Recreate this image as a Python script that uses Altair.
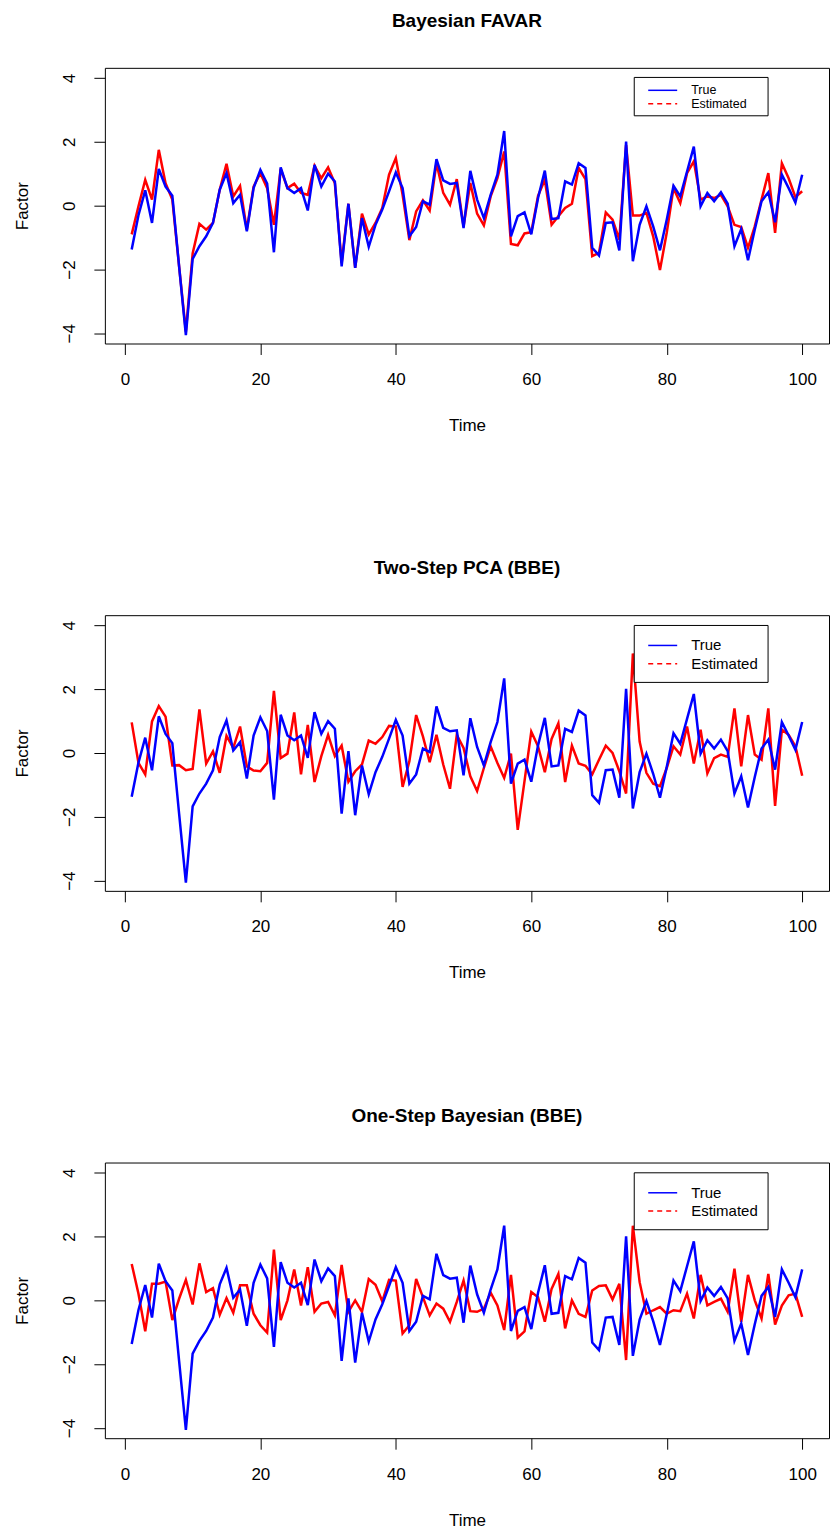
import altair as alt
import pandas as pd

# ---------------- data ----------------
TIME = list(range(1, 101))

TRUE_FACTOR = [
    -1.37, -0.30, 0.48, -0.54, 1.15, 0.60, 0.31, -1.90, -4.06, -1.67,
    -1.27, -0.96, -0.54, 0.50, 1.02, 0.08, 0.34, -0.80, 0.55, 1.12,
    0.69, -1.46, 1.20, 0.55, 0.40, 0.55, -0.15, 1.28, 0.60, 1.00,
    0.76, -1.90, 0.06, -1.95, -0.39, -1.29, -0.60, -0.12, 0.45, 1.04,
    0.55, -0.96, -0.67, 0.14, 0.03, 1.46, 0.79, 0.68, 0.71, -0.70,
    1.09, 0.19, -0.39, 0.34, 0.97, 2.34, -0.96, -0.33, -0.21, -0.90,
    0.24, 1.10, -0.42, -0.39, 0.76, 0.66, 1.33, 1.18, -1.32, -1.56,
    -0.54, -0.52, -1.40, 2.01, -1.74, -0.60, -0.02, -0.65, -1.40, -0.44,
    0.62, 0.29, 1.07, 1.85, -0.02, 0.40, 0.14, 0.42, 0.06, -1.27,
    -0.73, -1.71, -0.75, 0.14, 0.42, -0.52, 0.97, 0.55, 0.10, 0.97,
]

EST_FAVAR = [
    -0.90, -0.02, 0.81, 0.19, 1.75, 0.70, 0.19, -1.90, -3.95, -1.50,
    -0.57, -0.75, -0.54, 0.50, 1.31, 0.29, 0.62, -0.75, 0.60, 1.02,
    0.55, -0.60, 1.15, 0.55, 0.69, 0.40, 0.34, 1.25, 0.86, 1.20,
    0.70, -1.80, 0.06, -1.95, -0.25, -0.90, -0.54, -0.07, 0.97, 1.49,
    0.34, -1.08, -0.18, 0.17, -0.15, 1.33, 0.40, 0.03, 0.83, -0.65,
    0.71, -0.25, -0.62, 0.29, 0.86, 1.70, -1.20, -1.24, -0.87, -0.83,
    0.31, 0.81, -0.60, -0.33, -0.07, 0.06, 1.18, 0.83, -1.58, -1.48,
    -0.21, -0.44, -1.06, 1.90, -0.31, -0.31, -0.23, -0.96, -2.02, -0.85,
    0.55, 0.08, 1.02, 1.39, 0.19, 0.29, 0.24, 0.34, -0.02, -0.60,
    -0.67, -1.32, -0.65, 0.19, 1.02, -0.85, 1.33, 0.86, 0.27, 0.45,
]

EST_PCA = [
    0.96, -0.31, -0.67, 0.99, 1.47, 1.14, -0.39, -0.38, -0.54, -0.50,
    1.37, -0.33, 0.05, -0.62, 0.54, 0.16, 0.83, -0.42, -0.55, -0.57,
    -0.31, 1.95, -0.16, -0.02, 1.27, -0.67, 0.88, -0.91, -0.10, 0.57,
    -0.10, 0.23, -0.90, -0.57, -0.36, 0.39, 0.29, 0.50, 0.85, 0.83,
    -1.06, -0.26, 1.19, 0.52, -0.29, 0.57, -0.36, -1.12, 0.57, 0.16,
    -0.73, -1.19, -0.47, 0.21, -0.31, -0.78, -0.02, -2.41, -0.88, 0.67,
    0.21, -0.60, 0.44, 0.93, -0.91, 0.23, -0.33, -0.40, -0.67, -0.21,
    0.23, 0.00, -0.57, -1.27, 3.12, 0.36, -0.62, -0.96, -1.04, -0.47,
    0.21, -0.05, 0.83, -0.33, 0.73, -0.64, -0.16, -0.05, -0.12, 1.40,
    -0.42, 1.19, -0.05, -0.21, 1.40, -1.66, 0.73, 0.57, 0.21, -0.71,
]

EST_ONESTEP = [
    1.14, 0.21, -0.97, 0.52, 0.52, 0.59, -0.62, 0.05, 0.64, -0.13,
    1.16, 0.26, 0.38, -0.45, 0.07, -0.39, 0.47, 0.47, -0.42, -0.78,
    -1.01, 1.59, -0.62, 0.00, 0.97, -0.16, 1.04, -0.36, -0.10, -0.05,
    -0.47, 1.11, -0.36, 0.00, -0.36, 0.67, 0.49, -0.03, 0.64, 0.62,
    -1.04, -0.78, 0.67, 0.10, -0.47, -0.10, -0.26, -0.67, -0.05, 0.62,
    -0.34, -0.36, -0.26, 0.24, -0.16, -0.93, 0.80, -1.17, -0.97, 0.26,
    0.10, -0.67, 0.36, 0.83, -0.88, 0.00, -0.42, -0.52, 0.31, 0.45,
    0.47, 0.03, 0.52, -1.87, 2.34, 0.57, -0.42, -0.31, -0.21, -0.42,
    -0.31, -0.34, 0.21, -0.57, 0.80, -0.16, -0.05, 0.05, -0.36, 0.99,
    -0.67, 0.80, 0.00, -0.57, 0.83, -0.76, -0.16, 0.16, 0.21, -0.52,
]

TITLES = ["Bayesian FAVAR", "Two-Step PCA (BBE)", "One-Step Bayesian (BBE)"]
X_TICKS = [0, 20, 40, 60, 80, 100]
Y_TICKS = [-4, -2, 0, 2, 4]
LEGEND_LABELS = ["True", "Estimated"]

# ---------------- style ----------------
FONT = "Liberation Sans"
W, H = 725, 276
BLUE = "#0000FF"
RED = "#FF0000"


def make_panel(est, title, compact):
    est_df = pd.DataFrame({"Time": TIME, "Factor": est})
    true_df = pd.DataFrame({"Time": TIME, "Factor": TRUE_FACTOR})

    x = alt.X("Time:Q", title="Time",
              scale=alt.Scale(domain=[-2.96, 103.96], nice=False, zero=False),
              axis=alt.Axis(values=X_TICKS, format="d"))
    y = alt.Y("Factor:Q", title="Factor",
              scale=alt.Scale(domain=[-4.32, 4.32], nice=False, zero=False),
              axis=alt.Axis(values=Y_TICKS, format="d"))

    est_line = alt.Chart(est_df).mark_line(color=RED, strokeWidth=2.5).encode(x=x, y=y)
    true_line = alt.Chart(true_df).mark_line(color=BLUE, strokeWidth=2.5).encode(x=x, y=y)

    if compact:
        by1, by2, r1, r2, fs = 9.6, 48.0, 22.5, 36.0, 12.5
    else:
        by1, by2, r1, r2, fs = 10.3, 67.3, 30.3, 48.6, 15

    one = alt.Data(values=[{"k": 0}])
    box = alt.Chart(one).mark_rect(fill="white", stroke="black", strokeWidth=1).encode(
        x=alt.value(530), x2=alt.value(664), y=alt.value(by1), y2=alt.value(by2))
    rule_true = alt.Chart(one).mark_rule(color=BLUE, strokeWidth=1.5).encode(
        x=alt.value(544), x2=alt.value(573), y=alt.value(r1))
    rule_est = alt.Chart(one).mark_rule(color=RED, strokeWidth=1.5, strokeDash=[5, 4]).encode(
        x=alt.value(544), x2=alt.value(573), y=alt.value(r2))
    txt_true = alt.Chart(one).mark_text(align="left", baseline="middle", font=FONT,
                                        fontSize=fs, color="black").encode(
        x=alt.value(587), y=alt.value(r1), text=alt.value(LEGEND_LABELS[0]))
    txt_est = alt.Chart(one).mark_text(align="left", baseline="middle", font=FONT,
                                       fontSize=fs, color="black").encode(
        x=alt.value(587), y=alt.value(r2), text=alt.value(LEGEND_LABELS[1]))

    return alt.layer(est_line, true_line, box, rule_true, rule_est, txt_true, txt_est).properties(
        width=W, height=H,
        title=alt.TitleParams(text=title, font=FONT, fontSize=19, fontWeight="bold",
                              anchor="middle", offset=37, color="black"))


panels = [
    make_panel(EST_FAVAR, TITLES[0], True),
    make_panel(EST_PCA, TITLES[1], False),
    make_panel(EST_ONESTEP, TITLES[2], False),
]

chart = alt.vconcat(*panels, spacing=124).properties(
    padding={"left": 13, "top": 10, "right": 0, "bottom": 0},
    background="white",
).configure_view(
    stroke="black", strokeWidth=1
).configure_axis(
    grid=False, domain=False,
    labelFont=FONT, labelFontSize=17, labelColor="black",
    titleFont=FONT, titleFontSize=17, titleFontWeight="normal", titleColor="black",
    tickColor="black", tickSize=11, tickWidth=1,
).configure_axisX(
    labelPadding=17, titlePadding=30
).configure_axisY(
    labelAngle=270, labelAlign="center", labelBaseline="bottom",
    labelPadding=15, titlePadding=29
)

chart.save("out.html", embed_options={"renderer": "svg", "actions": False})
